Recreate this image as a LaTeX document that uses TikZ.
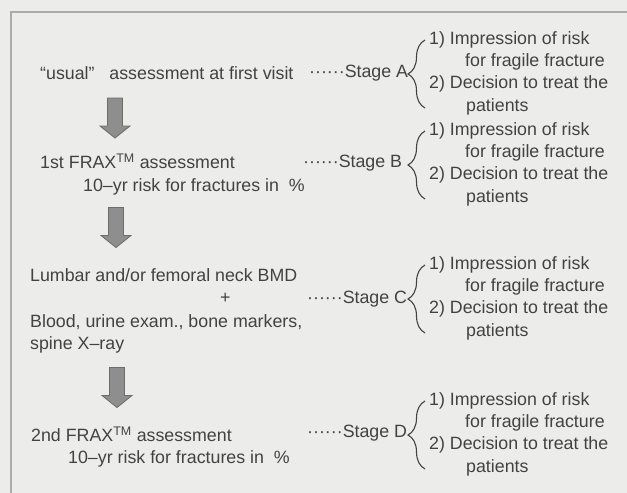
\documentclass[tikz,border=0pt]{standalone}
\usepackage{fontspec}
\setmainfont{Liberation Sans}
\usetikzlibrary{positioning,decorations.pathreplacing}

\definecolor{paper}{HTML}{ECECEA}
\definecolor{ink}{HTML}{424242}
\definecolor{framegray}{HTML}{ABABAB}
\definecolor{arrowfill}{HTML}{8E8E8E}
\definecolor{arrowline}{HTML}{6C6C6C}

\tikzset{
    txt/.style={anchor=west, inner sep=0pt, text=ink, font=\fontsize{17.8}{22.3}\selectfont},
    outcome/.style={txt, align=left},
    blockarrow/.style={draw=arrowline, fill=arrowfill, line width=0.8pt, line join=miter},
    curly/.style={decorate, decoration={brace, amplitude=17pt}, draw=ink, line width=1.1pt}
}

\begin{document}
\begin{tikzpicture}[x=1pt, y=-1pt]
    % Paper and frame
    \fill [paper] (0, 0) rectangle (627, 493);
    \useasboundingbox (0, 0) rectangle (627, 493);
    \draw [framegray, line width=1.2pt] (11, 493) -- (11, 12) -- (627, 12);

    % Assessment steps
    \node [txt] (usual) at (40, 73) {“usual”\ \ \ assessment at first visit};
    \node [txt] (fraxA) at (40, 161) {1st FRAX\textsuperscript{TM} assessment};
    \node [txt] (riskA) at (83, 187) {10–yr risk for fractures in\ \ \%};
    \node [txt] (bmd) at (30, 275) {Lumbar and/or femoral neck BMD};
    \node [txt] (plus) at (220, 298) {+};
    \node [txt] (blood) at (30, 322) {Blood, urine exam., bone markers,};
    \node [txt] (spine) at (30, 345) {spine X–ray};
    \node [txt] (fraxB) at (31, 434) {2nd FRAX\textsuperscript{TM} assessment};
    \node [txt] (riskB) at (68, 459) {10–yr risk for fractures in\ \ \%};

    % Block arrows between steps
    \coordinate (arrA) at (115, 118);
    \coordinate (arrB) at (116, 227.5);
    \coordinate (arrC) at (117, 387.5);
    \foreach \a in {arrA, arrB, arrC}
        \draw [blockarrow, shift={(\a)}] (-7.5, -20) -- (7.5, -20) -- (7.5, 8) -- (15, 8)
            -- (0, 20) -- (-15, 8) -- (-7.5, 8) -- cycle;

    % Stages
    \node [txt] (stageA) at (309, 73) {······Stage A};
    \node [txt] (stageB) at (303, 163) {······Stage B};
    \node [txt] (stageC) at (307, 299) {······Stage C};
    \node [txt] (stageD) at (307, 433) {······Stage D};

    % Outcomes of each stage
    \foreach \s/\y in {A/73, B/164, C/298, D/434} {
        \node [outcome] (out\s) at (429, \y) {1) Impression of risk\\
            \hspace*{36pt}for fragile fracture\\
            2) Decision to treat the\\
            \hspace*{37pt}patients};
        \draw [curly] ([xshift=-4pt, yshift=7pt]out\s.south west) -- ([xshift=-4pt, yshift=-9pt]out\s.north west);
    }
\end{tikzpicture}
\end{document}
